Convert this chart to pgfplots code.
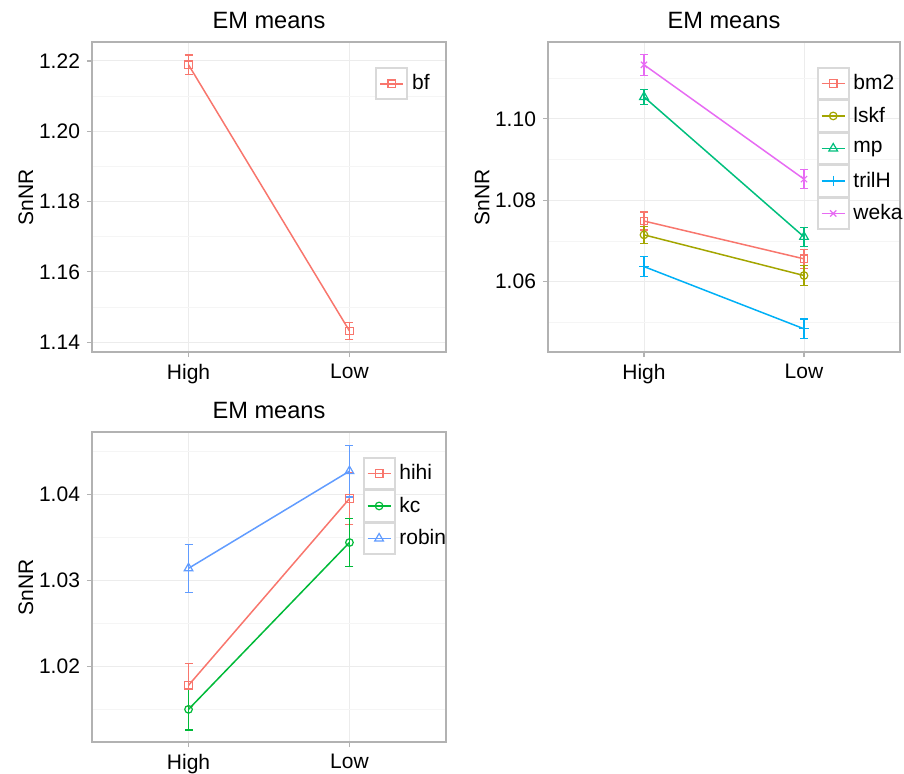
\documentclass[border=0pt]{standalone}
\usepackage{fontspec}
\setmainfont{Liberation Sans}
\usepackage{pgfplots}
\pgfplotsset{compat=1.18}
\definecolor{cA}{HTML}{F8766D}
\definecolor{cB}{HTML}{A3A500}
\definecolor{cC}{HTML}{00BF7D}
\definecolor{cD}{HTML}{00B0F6}
\definecolor{cE}{HTML}{E76BF3}
\definecolor{cG}{HTML}{00BA38}
\definecolor{cH}{HTML}{619CFF}
\pgfplotsset{
  emstyle/.style={
    scale only axis, width=177pt, height=155pt,
    xmin=-0.6, xmax=1.6, xtick={0,1}, xticklabels={High,Low},
    axis line style={gray!60, line width=0.6pt},
    tick align=outside, major tick length=2.5pt, minor tick length=0pt,
    tick style={gray!60, line width=0.6pt},
    xtick pos=left, ytick pos=left,
    grid=both, major grid style={gray!15, line width=0.5pt},
    minor grid style={gray!8, line width=0.4pt},
    tick label style={font=\fontsize{10.5}{12}\selectfont, black},
    yticklabel style={/pgf/number format/.cd, fixed, fixed zerofill, precision=2, assume math mode=true},
    title={EM means},
    title style={font=\fontsize{11.8}{14}\selectfont, at={(axis description cs:0.5,1.032)}, anchor=center},
    ylabel={SnNR},
    ylabel style={font=\fontsize{10.5}{12}\selectfont, at={(axis description cs:-0.187,0.5)}, anchor=center},
    legend cell align=left,
    legend style={anchor=north west, draw=none, fill=none, row sep=0pt, inner sep=0pt,
      font=\fontsize{10.5}{12}\selectfont, nodes={inner ysep=0pt, inner xsep=2pt}},
    legend image code/.code={
      \path (0pt,-7.75pt) rectangle (15.5pt,7.75pt);
      \draw[overlay, draw=gray!30, line width=0.9pt, solid, fill=white] (0pt,-7.75pt) rectangle (15.5pt,7.75pt);
      \draw[##1, mark repeat=2, mark phase=2] plot coordinates {(2pt,0pt) (7.75pt,0pt) (13.5pt,0pt)};
    },
  },
  ser/.style={color=#1, line width=0.75pt, mark size=1.9pt,
    mark options={solid, line width=0.6pt, fill=none},
    error bars/y dir=both, error bars/y explicit,
    error bars/error mark options={rotate=90, mark size=2pt, line width=0.6pt, color=#1},
    error bars/error bar style={line width=0.6pt, color=#1}},
}
\begin{document}
\begin{tikzpicture}
\path[use as bounding box] (0,0) rectangle (452pt,-386.5pt);
% top-left
\begin{axis}[emstyle, at={(46pt,-176pt)}, anchor=south west,
  ymin=1.1372, ymax=1.2254, ytick={1.14,1.16,1.18,1.20,1.22},
  minor ytick={1.15,1.17,1.19,1.21},
  legend style={at={(axis description cs:0.80,0.919)}}]
\addplot[ser=cA, mark=square] coordinates {(0,1.2189) +- (0,0.0028) (1,1.1432) +- (0,0.0024)};
\addlegendentry{bf}
\end{axis}
% top-right
\begin{axis}[emstyle, at={(274pt,-176pt)}, anchor=south west, width=176pt,
  ymin=1.0427, ymax=1.1189, ytick={1.06,1.08,1.10},
  minor ytick={1.05,1.07,1.09,1.11},
  legend style={at={(axis description cs:0.763,0.92)}}]
\addplot[ser=cA, mark=square] coordinates {(0,1.0749) +- (0,0.0022) (1,1.0656) +- (0,0.0023)};
\addlegendentry{bm2}
\addplot[ser=cB, mark=o] coordinates {(0,1.0715) +- (0,0.0021) (1,1.0615) +- (0,0.0025)};
\addlegendentry{lskf}
\addplot[ser=cC, mark=triangle, mark size=2.5pt] coordinates {(0,1.1054) +- (0,0.0019) (1,1.0710) +- (0,0.0023)};
\addlegendentry{mp}
\addplot[ser=cD, mark=+, mark size=2.5pt] coordinates {(0,1.0637) +- (0,0.0025) (1,1.0484) +- (0,0.0024)};
\addlegendentry{trilH}
\addplot[ser=cE, mark=x, mark size=2.2pt] coordinates {(0,1.1133) +- (0,0.0026) (1,1.0852) +- (0,0.0023)};
\addlegendentry{weka}
\end{axis}
% bottom-left
\begin{axis}[emstyle, at={(46pt,-371pt)}, anchor=south west,
  ymin=1.0112, ymax=1.04725, ytick={1.02,1.03,1.04},
  minor ytick={1.015,1.025,1.035,1.045},
  legend style={at={(axis description cs:0.764,0.92)}}]
\addplot[ser=cA, mark=square] coordinates {(0,1.0178) +- (0,0.0025) (1,1.0395) +- (0,0.0030)};
\addlegendentry{hihi}
\addplot[ser=cG, mark=o] coordinates {(0,1.0150) +- (0,0.0024) (1,1.0344) +- (0,0.0028)};
\addlegendentry{kc}
\addplot[ser=cH, mark=triangle, mark size=2.5pt] coordinates {(0,1.0314) +- (0,0.0028) (1,1.0427) +- (0,0.0030)};
\addlegendentry{robin}
\end{axis}
\end{tikzpicture}
\end{document}
